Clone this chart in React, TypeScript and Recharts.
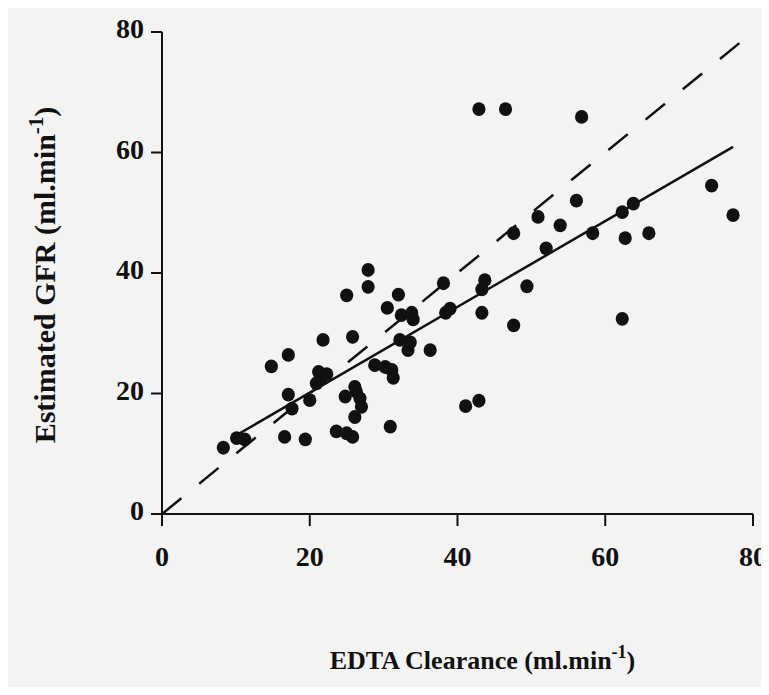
import React from 'react';
import { ScatterChart, Scatter, XAxis, YAxis, ReferenceLine, Label } from 'recharts';

// EDTA clearance (x) against estimated GFR (y), both in ml/min
const edtaClearance = [
  8.3, 10.1, 11.2, 14.8, 16.6, 17.1, 17.1, 17.6, 19.4, 20.0,
  20.9, 21.2, 21.4, 21.8, 22.3, 23.6, 24.8, 25.0, 25.0, 25.8,
  25.8, 26.1, 26.3, 26.8, 27.0, 26.1, 27.9, 27.9, 28.8, 30.2,
  30.5, 30.9, 31.1, 31.3, 32.0, 32.2, 32.4, 33.3, 33.6, 33.8,
  34.0, 36.3, 38.1, 38.4, 39.0, 41.1, 42.9, 42.9, 43.3, 43.3,
  43.7, 46.5, 47.6, 47.6, 49.4, 50.9, 52.0, 53.9, 56.1, 56.8,
  58.3, 62.3, 62.3, 62.7, 63.8, 65.9, 74.4, 77.3,
];
const estimatedGfr = [
  11.0, 12.6, 12.4, 24.5, 12.8, 26.4, 19.8, 17.5, 12.4, 18.9,
  21.7, 23.6, 22.3, 28.9, 23.2, 13.7, 19.5, 13.4, 36.3, 29.4,
  12.8, 21.1, 20.3, 19.2, 17.8, 16.1, 40.5, 37.7, 24.7, 24.4,
  34.2, 14.5, 23.9, 22.6, 36.4, 28.9, 33.0, 27.2, 28.5, 33.4,
  32.3, 27.2, 38.3, 33.4, 34.1, 17.9, 18.8, 67.2, 37.3, 33.4,
  38.8, 67.2, 46.6, 31.3, 37.8, 49.3, 44.1, 47.9, 52.0, 65.9,
  46.6, 50.1, 32.4, 45.8, 51.5, 46.6, 54.5, 49.6,
];
const axisTicks = [0, 20, 40, 60, 80];

// least-squares fit (solid) and line of identity (dashed)
const fitSlope = 0.712;
const fitIntercept = 5.9;
const fitRange = [9.4, 77.3];
const identityRange = [0, 79.5];

const points = edtaClearance.map((x, i) => ({ x, y: estimatedGfr[i] }));
const fitSegment = fitRange.map(x => ({ x, y: fitIntercept + fitSlope * x }));
const identitySegment = identityRange.map(x => ({ x, y: x }));

const font = '"Liberation Serif", "Times New Roman", serif';
const ink = '#111';

const Dot = (props: any) => (
  <ellipse cx={props.cx} cy={props.cy} rx={6.6} ry={6.9} fill={ink} />
);

const XTick = ({ x, y, payload }: any) => (
  <text x={x} y={y} dy={20} textAnchor="middle" fill={ink}
    style={{ fontSize: 28, fontWeight: 700, fontFamily: font }}>
    {payload.value}
  </text>
);

const YTick = ({ x, y, payload }: any) => (
  <text x={x} y={y} dy={6} textAnchor="end" fill={ink}
    style={{ fontSize: 28, fontWeight: 700, fontFamily: font }}>
    {payload.value}
  </text>
);

const XTitle = ({ viewBox }: any) => (
  <text
    x={viewBox.x + viewBox.width / 2 + 25}
    y={669}
    textAnchor="middle"
    fill={ink}
    fontSize={26}
    fontWeight={700}
    fontFamily={font}
  >
    EDTA Clearance (ml.min
    <tspan dy={-11} fontSize={18}>-1</tspan>
    <tspan dy={11}>)</tspan>
  </text>
);

const YTitle = () => (
  <text
    x={55}
    y={275}
    transform="rotate(-90, 55, 275)"
    textAnchor="middle"
    fill={ink}
    fontSize={30}
    fontWeight={700}
    fontFamily={font}
  >
    Estimated GFR (ml.min
    <tspan dy={-12} fontSize={21}>-1</tspan>
    <tspan dy={12}>)</tspan>
  </text>
);

export default function App() {
  return (
    <div style={{ margin: -8, width: 769, height: 695, background: '#f3f3f2' }}>
      <ScatterChart
        width={769}
        height={695}
        margin={{ top: 32, right: 16, bottom: 121, left: 62 }}
      >
        <XAxis
          type="number"
          dataKey="x"
          domain={[0, 80]}
          ticks={axisTicks}
          height={60}
          axisLine={{ stroke: ink, strokeWidth: 2 }}
          tickLine={{ stroke: ink, strokeWidth: 2 }}
          tickSize={12}
          tickMargin={20}
          tick={XTick}
        >
          <Label content={XTitle} />
        </XAxis>
        <YAxis
          type="number"
          dataKey="y"
          domain={[0, 80]}
          ticks={axisTicks}
          width={100}
          axisLine={{ stroke: ink, strokeWidth: 2 }}
          tickLine={{ stroke: ink, strokeWidth: 2 }}
          tickSize={11}
          tickMargin={7}
          tick={YTick}
        >
          <Label content={YTitle} />
        </YAxis>
        <ReferenceLine
          segment={identitySegment}
          stroke={ink}
          strokeWidth={2.5}
          strokeDasharray="25 23"
          ifOverflow="visible"
        />
        <ReferenceLine
          segment={fitSegment}
          stroke={ink}
          strokeWidth={2.5}
          ifOverflow="visible"
        />
        <Scatter data={points} shape={Dot} isAnimationActive={false} />
      </ScatterChart>
    </div>
  );
}
